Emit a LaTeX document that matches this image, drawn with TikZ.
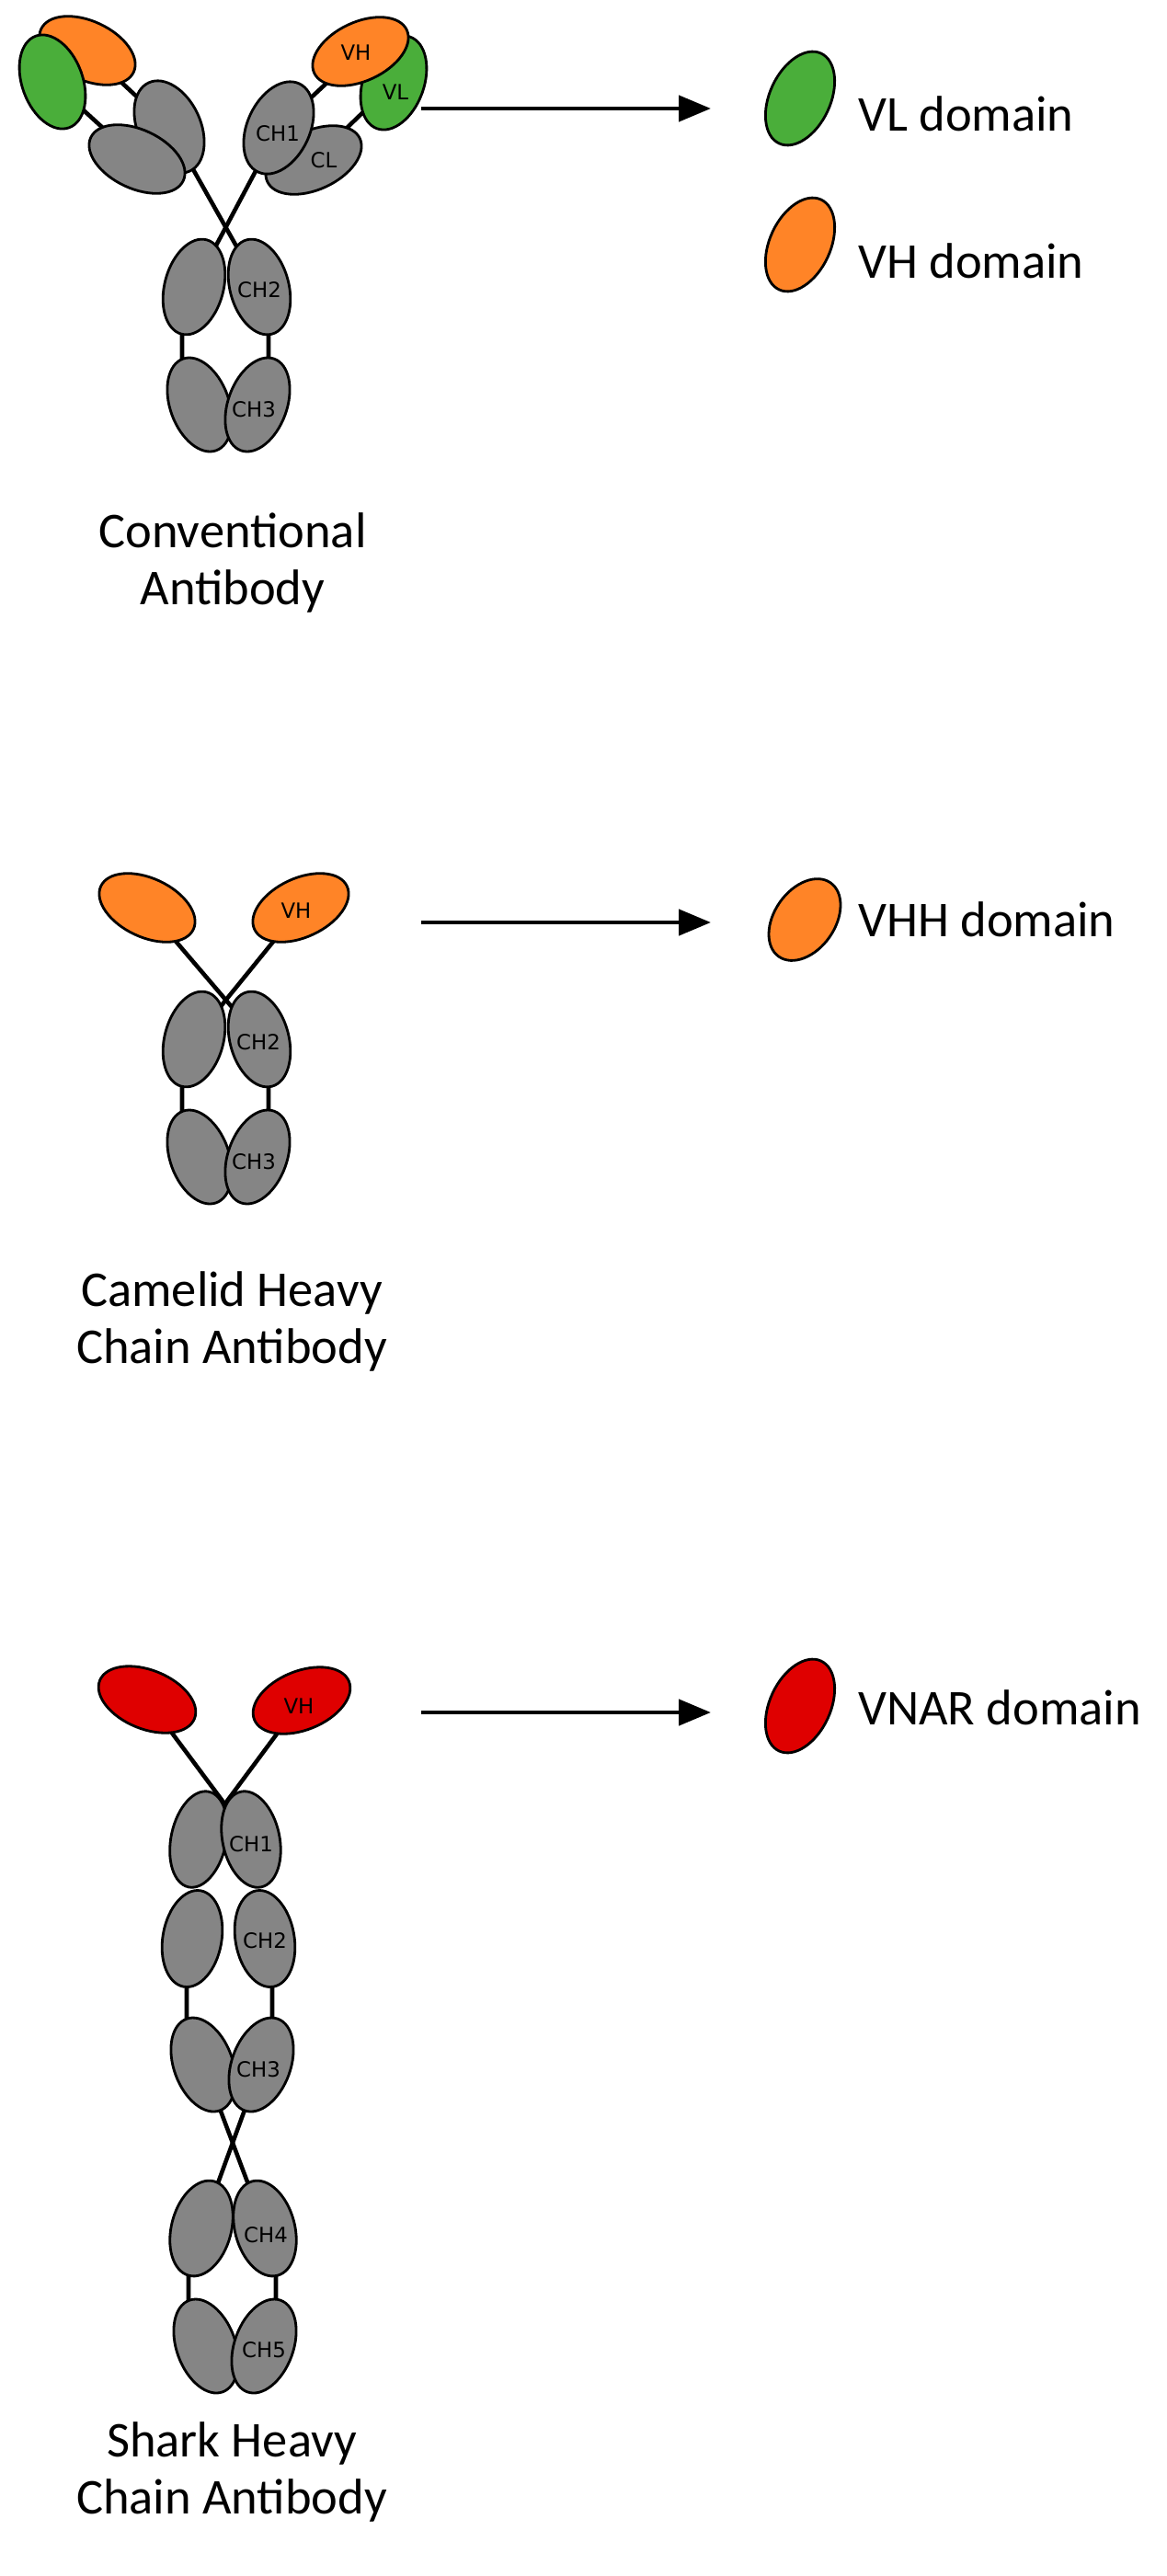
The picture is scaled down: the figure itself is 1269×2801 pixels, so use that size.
\documentclass[tikz,border=0pt]{standalone}
\usepackage{fontspec}
\setmainfont{Carlito}
\newfontfamily\tagfont{DejaVu Sans}
\usepackage{xcolor}
\usetikzlibrary{arrows.meta,shapes.geometric,backgrounds}

\definecolor{abgray}{HTML}{858585}
\definecolor{abgreen}{HTML}{4AAE3A}
\definecolor{aborange}{HTML}{FF8427}
\definecolor{abred}{HTML}{DF0000}

\begin{document}
\begin{tikzpicture}[
    x=0.2mm, y=-0.2mm,
    dom/.style={ellipse, draw, line width=1.6pt, inner sep=0pt, minimum width=21.2mm, minimum height=13.2mm},
    vdom/.style={dom, minimum width=22.2mm, minimum height=12.8mm},
    key/.style={dom, minimum width=21.6mm, minimum height=13.2mm, rotate=65},
    tag/.style={font=\tagfont\fontsize{13}{15}\selectfont, inner sep=0pt},
    caption/.style={font=\fontsize{31}{35.7}\selectfont, align=center, anchor=north, inner sep=0pt},
    keytext/.style={font=\fontsize{31}{36}\selectfont, anchor=base west, inner sep=0pt},
    link/.style={line width=2.6pt},
    arrow/.style={-{Triangle[length=7mm, width=5.6mm]}, line width=2.6pt}
]
    \useasboundingbox (0,0) rectangle (1269,2801);

    % conventional antibody
    \node[vdom, fill=aborange, rotate=-25] (clvh) at (95,55) {};
    \node[dom, fill=abgreen, rotate=-70] (clvl) at (57,89) {};
    \node[dom, fill=abgray, rotate=-65, minimum height=13.6mm] (clch) at (184,138) {};
    \node[vdom, fill=abgray, rotate=-25] (clcl) at (149,173) {};
    \node[dom, fill=abgreen, rotate=70] (crvl) at (428,90) {};
    \node[vdom, fill=aborange, rotate=25] (crvh) at (392,56) {};
    \node[vdom, fill=abgray, rotate=25] (crcl) at (341,174) {};
    \node[dom, fill=abgray, rotate=65, minimum height=13.6mm] (crch) at (303,139) {};
    \node[dom, fill=abgray, rotate=75, minimum height=12.8mm] (cch2l) at (211,312) {};
    \node[dom, fill=abgray, rotate=105, minimum height=12.8mm] (cch2r) at (282,312) {};
    \node[dom, fill=abgray, rotate=110, minimum height=12.8mm] (cch3l) at (217,440) {};
    \node[dom, fill=abgray, rotate=70, minimum height=12.8mm] (cch3r) at (280,440) {};
    \node[tag] at (387,57) {VH};
    \node[tag] at (430,100) {VL};
    \node[tag] at (302,145) {CH1};
    \node[tag] at (352,174) {CL};
    \node[tag] at (282,315) {CH2};
    \node[tag] at (276,445) {CH3};
    \node[caption] (conv) at (253,557) {Conventional\\Antibody};

    % camelid heavy chain antibody
    \node[vdom, fill=aborange, rotate=-25] (mvl) at (160,987) {};
    \node[vdom, fill=aborange, rotate=25] (mvr) at (327,987) {};
    \node[dom, fill=abgray, rotate=75, minimum height=12.8mm] (mch2l) at (211,1130) {};
    \node[dom, fill=abgray, rotate=105, minimum height=12.8mm] (mch2r) at (282,1130) {};
    \node[dom, fill=abgray, rotate=110, minimum height=12.8mm] (mch3l) at (217,1258) {};
    \node[dom, fill=abgray, rotate=70, minimum height=12.8mm] (mch3r) at (280,1258) {};
    \node[tag] at (322,990) {VH};
    \node[tag] at (281,1133) {CH2};
    \node[tag] at (276,1263) {CH3};
    \node[caption] (camel) at (252,1382) {Camelid Heavy\\Chain Antibody};

    % shark heavy chain antibody
    \node[vdom, fill=abred, rotate=-22] (svl) at (160,1848) {};
    \node[vdom, fill=abred, rotate=22] (svr) at (328,1849) {};
    \node[dom, fill=abgray, rotate=78, minimum height=12mm] (sch1l) at (216,2000) {};
    \node[dom, fill=abgray, rotate=102, minimum height=12.4mm] (sch1r) at (273,2000) {};
    \node[dom, fill=abgray, rotate=80, minimum height=12.8mm] (sch2l) at (209,2108) {};
    \node[dom, fill=abgray, rotate=100, minimum height=12.8mm] (sch2r) at (288,2108) {};
    \node[dom, fill=abgray, rotate=110, minimum height=12.8mm] (sch3l) at (221,2245) {};
    \node[dom, fill=abgray, rotate=70, minimum height=12.8mm] (sch3r) at (284,2245) {};
    \node[dom, fill=abgray, rotate=75, minimum height=13mm] (sch4l) at (219,2423) {};
    \node[dom, fill=abgray, rotate=105, minimum height=13mm] (sch4r) at (288,2423) {};
    \node[dom, fill=abgray, rotate=110, minimum height=12.8mm] (sch5l) at (224,2551) {};
    \node[dom, fill=abgray, rotate=70, minimum height=12.8mm] (sch5r) at (287,2551) {};
    \node[tag] at (325,1855) {VH};
    \node[tag] at (273,2005) {CH1};
    \node[tag] at (288,2110) {CH2};
    \node[tag] at (281,2250) {CH3};
    \node[tag] at (289,2430) {CH4};
    \node[tag] at (287,2555) {CH5};
    \node[caption] (shark) at (252,2633) {Shark Heavy\\Chain Antibody};

    % hinges and links
    \begin{scope}[on background layer]
        \draw[link] (clvl.center) -- (clcl.center);
        \draw[link] (clvh.center) -- (clch.center);
        \draw[link] (crvh.center) -- (crch.center);
        \draw[link] (crvl.center) -- (crcl.center);
        \draw[link] (clch.center) -- (cch2r.center);
        \draw[link] (crch.center) -- (cch2l.center);
        \draw[link] ([xshift=-2.6mm]cch2l.center) -- ([xshift=-3.8mm]cch3l.center);
        \draw[link] ([xshift=2mm]cch2r.center) -- ([xshift=2.4mm]cch3r.center);
        \draw[link] (mvl.center) -- (mch2r.center);
        \draw[link] (mvr.center) -- (mch2l.center);
        \draw[link] ([xshift=-2.6mm]mch2l.center) -- ([xshift=-3.8mm]mch3l.center);
        \draw[link] ([xshift=2mm]mch2r.center) -- ([xshift=2.4mm]mch3r.center);
        \draw[link] (svl.center) -- (sch1r.center);
        \draw[link] (svr.center) -- (sch1l.center);
        \draw[link] ([xshift=-1.2mm]sch2l.center) -- ([xshift=-3.6mm]sch3l.center);
        \draw[link] ([xshift=1.6mm]sch2r.center) -- ([xshift=2.4mm]sch3r.center);
        \draw[link] (sch3l.center) -- (sch4r.center);
        \draw[link] (sch3r.center) -- (sch4l.center);
        \draw[link] ([xshift=-2.8mm]sch4l.center) -- ([xshift=-3.8mm]sch5l.center);
        \draw[link] ([xshift=2.4mm]sch4r.center) -- ([xshift=2.6mm]sch5r.center);
    \end{scope}

    % legend
    \node[key, fill=abgreen] (kvl) at (870,107) {};
    \node[keytext] at (933,143) {VL domain};
    \node[key, fill=aborange] (kvh) at (870,266) {};
    \node[keytext] at (933,303) {VH domain};
    \node[key, fill=aborange, rotate=-10, minimum width=19.6mm] (kvhh) at (875,1000) {};
    \node[keytext] at (933,1018) {VHH domain};
    \node[key, fill=abred] (kvnar) at (870,1855) {};
    \node[keytext] at (933,1875) {VNAR domain};

    \coordinate (a1s) at (458,118);
    \coordinate (a1e) at (773,118);
    \coordinate (a2s) at (458,1003);
    \coordinate (a2e) at (773,1003);
    \coordinate (a3s) at (458,1862);
    \coordinate (a3e) at (773,1862);
    \draw[arrow] (a1s) -- (a1e);
    \draw[arrow] (a2s) -- (a2e);
    \draw[arrow] (a3s) -- (a3e);
\end{tikzpicture}
\end{document}
